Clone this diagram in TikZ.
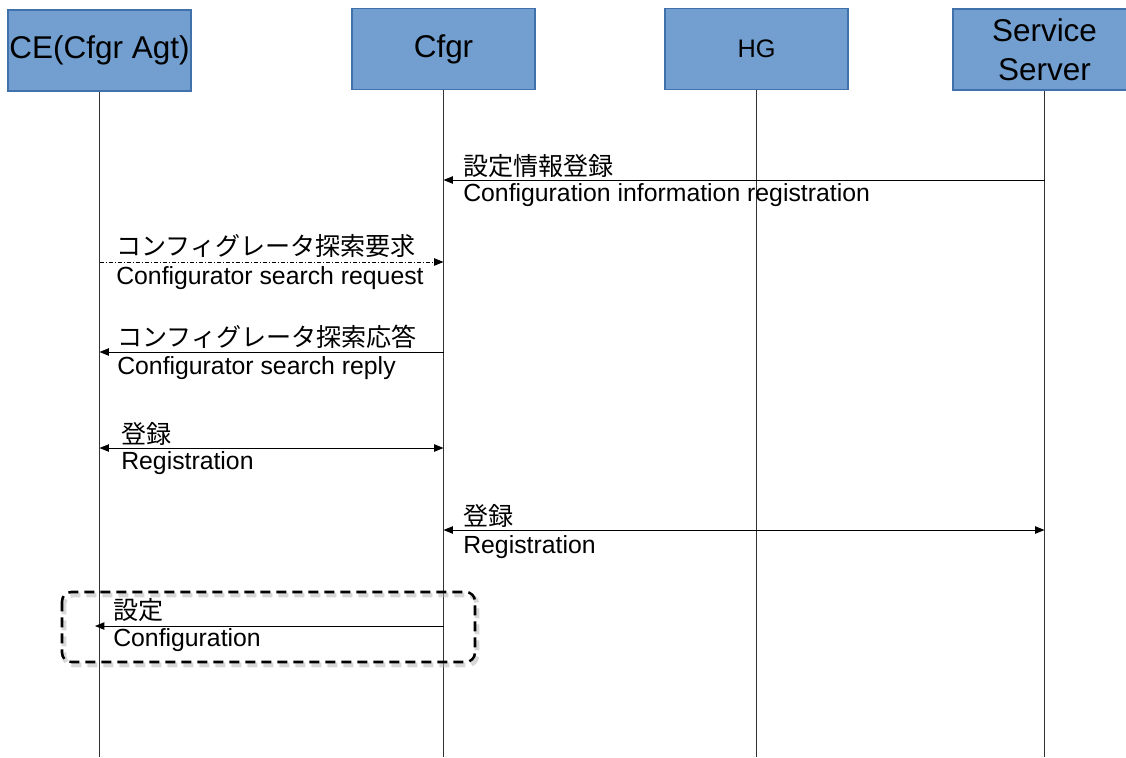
\documentclass[tikz,border=0pt]{standalone}
\usepackage{fontspec}
\setmainfont{Liberation Sans}
\newfontfamily\jpfont{Noto Sans CJK JP}
\usetikzlibrary{positioning,arrows.meta}
\definecolor{boxblue}{RGB}{114,159,207}
\definecolor{boxline}{RGB}{65,113,170}
\tikzset{
  actor/.style={draw=boxline,fill=boxblue,line width=0.9pt,inner sep=0pt,
    minimum width=137.25pt,minimum height=60.75pt,align=center,
    font=\fontsize{23.6}{29.5}\selectfont},
  life/.style={line width=0.8pt,black!80},
  msg/.style={line width=0.75pt,-{Triangle[length=7pt,width=5.5pt]}},
  twoway/.style={line width=0.75pt,{Triangle[length=7pt,width=5.5pt]}-{Triangle[length=7pt,width=5.5pt]}},
  jplabel/.style={anchor=west,inner sep=0pt,font=\fontsize{18.8}{21}\jpfont},
  enlabel/.style={anchor=west,inner sep=0pt,font=\fontsize{18.6}{21}\selectfont},
  groupbox/.style={rounded corners=7pt,line width=1.9pt,dash pattern=on 7.5pt off 4.5pt}
}
\begin{document}
\begin{tikzpicture}[x=0.75pt,y=-0.75pt]
\useasboundingbox (0,0) rectangle (1126,757);
\clip (0,0) rectangle (1126,757);
%the actors
\node [actor] (ceBox) at (99.5,50.5) {CE(Cfgr Agt)};
\node [actor] (cfgrBox) at (443.5,49) {Cfgr};
\node [actor,font=\fontsize{19}{22}\selectfont] (hgBox) at (756.5,49) {HG};
\node [actor] (serverBox) at (1044.5,49.5) {Service\\Server};
%lifelines
\coordinate (ceEnd) at (ceBox.south |- 0,757);
\coordinate (cfgrEnd) at (cfgrBox.south |- 0,757);
\coordinate (hgEnd) at (hgBox.south |- 0,757);
\coordinate (serverEnd) at (serverBox.south |- 0,757);
\draw[life] (ceBox.south) -- (ceEnd);
\draw[life] (cfgrBox.south) -- (cfgrEnd);
\draw[life] (hgBox.south) -- (hgEnd);
\draw[life] (serverBox.south) -- (serverEnd);
%configuration group (shadow first)
\draw[groupbox,gray!60,opacity=0.5,line width=3.5pt] (64,595) rectangle (477,665);
\draw[groupbox] (62,592) rectangle (475,662);
%message points
\coordinate (serverA) at (serverBox.south |- 0,180);
\coordinate (cfgrA) at (cfgrBox.south |- 0,180);
\coordinate (ceB) at (ceBox.south |- 0,262);
\coordinate (cfgrB) at (cfgrBox.south |- 0,262);
\coordinate (cfgrC) at (cfgrBox.south |- 0,352);
\coordinate (ceC) at (ceBox.south |- 0,352);
\coordinate (ceD) at (ceBox.south |- 0,448);
\coordinate (cfgrD) at (cfgrBox.south |- 0,448);
\coordinate (cfgrE) at (cfgrBox.south |- 0,530);
\coordinate (serverE) at (serverBox.south |- 0,530);
\coordinate (cfgrF) at (cfgrBox.south |- 0,626);
\coordinate (ceF) at (95,626);
%drawings of messages
\draw[msg] (serverA) -- (cfgrA);
\draw[msg,dash pattern=on 3pt off 1.5pt on 0.8pt off 1.5pt] (ceB) -- (cfgrB);
\draw[msg] (cfgrC) -- (ceC);
\draw[twoway] (ceD) -- (cfgrD);
\draw[twoway] (cfgrE) -- (serverE);
\draw[msg] (cfgrF) -- (ceF);
%labels
\node [jplabel] (regInfoJp) at (463,166) {設定情報登録};
\node [enlabel] (regInfoEn) at (463,195) {Configuration information registration};
\node [jplabel] (searchReqJp) at (116,246) {コンフィグレータ探索要求};
\node [enlabel] (searchReqEn) at (116,278) {Configurator search request};
\node [jplabel] (searchRepJp) at (117,337) {コンフィグレータ探索応答};
\node [enlabel] (searchRepEn) at (117,368) {Configurator search reply};
\node [jplabel] (regCeJp) at (121,434) {登録};
\node [enlabel] (regCeEn) at (121,463) {Registration};
\node [jplabel] (regSrvJp) at (463,516) {登録};
\node [enlabel] (regSrvEn) at (463,547) {Registration};
\node [jplabel] (configJp) at (113,610) {設定};
\node [enlabel] (configEn) at (113,640) {Configuration};
\end{tikzpicture}
\end{document}
